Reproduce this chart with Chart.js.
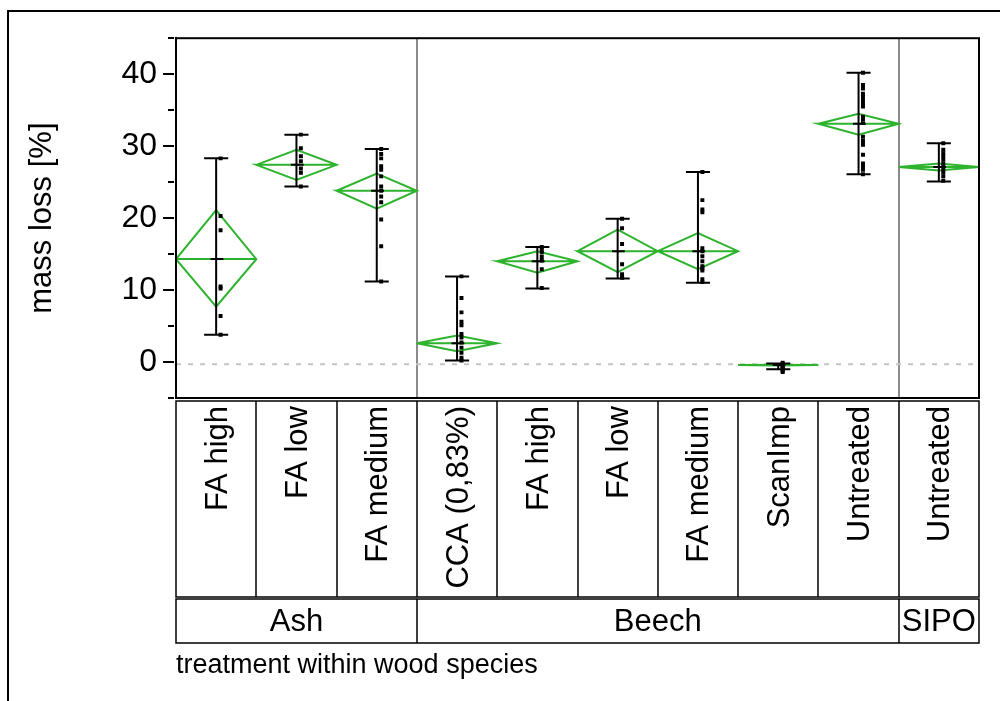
<!DOCTYPE html>
<html>
<head>
<meta charset="utf-8">
<title>mass loss</title>
<script src="https://cdn.jsdelivr.net/npm/chart.js@4.4.1/dist/chart.umd.min.js"></script>
<style>
  body { margin: 0; background: #fff; }
  #wrap { width: 1000px; height: 701px; }
</style>
</head>
<body>
<div id="wrap"><canvas id="chart" width="1000" height="701"></canvas></div>
<script>
// treatments, grouped by wood species
var categories = ['FA high', 'FA low', 'FA medium', 'CCA (0,83%)', 'FA high', 'FA low', 'FA medium', 'ScanImp', 'Untreated', 'Untreated'];
var species = ['Ash', 'Beech', 'SIPO'];
var speciesCount = [3, 6, 1];

// means diamonds (mean + confidence limits) and range bars
var means  = [14.3, 27.4, 23.8, 2.6, 14.0, 15.4, 15.4, -0.42, 33.1, 27.1];
var ciLow  = [7.7, 25.3, 21.3, 1.5, 12.4, 12.5, 12.9, -0.47, 31.6, 26.6];
var ciHigh = [21.1, 29.5, 26.2, 3.7, 15.4, 18.4, 17.9, -0.37, 34.5, 27.6];
var minVals = [3.8, 24.4, 11.2, 0.2, 10.2, 11.6, 11.0, -1.0, 26.1, 25.1];
var maxVals = [28.3, 31.6, 29.6, 11.9, 16.0, 19.9, 26.4, -0.2, 40.2, 30.4];

// single measurements
var ashHigh   = [28.3, 20.3, 18.3, 10.5, 10.2, 6.4, 3.8];
var ashLow    = [31.6, 29.7, 28.6, 27.9, 26.9, 26.3, 24.4];
var ashMedium = [29.6, 28.9, 28.3, 27.2, 26.7, 25.8, 24.4, 23.8, 23.0, 22.2, 19.8, 16.1, 11.2];
var beechCCA  = [11.9, 8.9, 6.9, 5.6, 5.1, 3.9, 3.4, 2.7, 2.0, 1.3, 0.6, 0.2];
var beechHigh = [16.0, 15.6, 15.2, 14.6, 14.1, 12.9, 10.3];
var beechLow  = [19.9, 18.6, 16.4, 13.6, 12.2, 11.9, 11.7];
var beechMedium = [26.4, 22.5, 21.2, 20.8, 15.8, 15.4, 14.7, 14.0, 13.3, 13.0, 12.7, 11.5, 11.1];
var beechScanImp = [-0.1, -0.3, -0.5, -0.7, -0.9, -1.0, -1.2, -1.4];
var beechUntreated = [40.2, 38.5, 38.0, 37.3, 36.9, 36.4, 36.0, 35.5, 34.1, 33.7, 33.2, 31.3, 30.7, 30.2, 28.8, 27.6, 27.2, 26.7, 26.1];
var sipoUntreated = [30.4, 29.5, 29.0, 28.6, 28.1, 27.6, 27.2, 26.7, 26.3, 25.8, 25.2];
var measurements = [ashHigh, ashLow, ashMedium, beechCCA, beechHigh, beechLow, beechMedium, beechScanImp, beechUntreated, sipoUntreated];

var refLine = -0.3;
var yTicksMajor = [0, 10, 20, 30, 40];

var GREEN = '#2db32d';
var FONT = "'Liberation Sans', Arial, sans-serif";

// diamond outlines + mean line, one path per treatment
var diamonds = [];
var bars = [];
var dots = [];
for (var i = 0; i < categories.length; i++) {
  var c = i + 0.5;
  diamonds.push({x: i, y: means[i]}, {x: c, y: ciHigh[i]}, {x: i + 1, y: means[i]},
                {x: c, y: ciLow[i]}, {x: i, y: means[i]}, {x: i + 1, y: means[i]}, {x: c, y: null});
  bars.push({x: c, y: minVals[i]}, {x: c, y: maxVals[i]}, {x: c, y: null});
  bars.push({x: c - 0.15, y: maxVals[i]}, {x: c + 0.15, y: maxVals[i]}, {x: c, y: null});
  bars.push({x: c - 0.15, y: minVals[i]}, {x: c + 0.15, y: minVals[i]}, {x: c, y: null});
  bars.push({x: c - 0.07, y: means[i]}, {x: c + 0.09, y: means[i]}, {x: c, y: null});
  measurements[i].forEach(function(v) { dots.push({x: c + 0.055, y: v}); });
}

// frames, tick marks and the two-level category table under the plot
var decor = {
  id: 'decor',
  beforeDraw: function(chart) {
    var ctx = chart.ctx;
    ctx.save();
    ctx.fillStyle = '#fff';
    ctx.fillRect(0, 0, chart.width, chart.height);
    ctx.strokeStyle = '#000';
    ctx.lineWidth = 2;
    ctx.beginPath();
    ctx.moveTo(8, chart.height);
    ctx.lineTo(8, 11);
    ctx.lineTo(chart.width, 11);
    ctx.stroke();
    ctx.restore();
  },
  beforeDatasetsDraw: function(chart) {
    var ctx = chart.ctx, a = chart.chartArea, x = chart.scales.x;
    ctx.save();
    ctx.strokeStyle = '#8a8a8a';
    ctx.lineWidth = 2;
    var pos = 0;
    for (var g = 0; g < speciesCount.length - 1; g++) {
      pos += speciesCount[g];
      var px = Math.round(x.getPixelForValue(pos));
      ctx.beginPath();
      ctx.moveTo(px, a.top);
      ctx.lineTo(px, a.bottom);
      ctx.stroke();
    }
    ctx.restore();
  },
  afterDraw: function(chart) {
    var ctx = chart.ctx, a = chart.chartArea, x = chart.scales.x, y = chart.scales.y;
    ctx.save();
    ctx.strokeStyle = '#000';
    ctx.lineWidth = 2;
    ctx.strokeRect(a.left, a.top, a.right - a.left, a.bottom - a.top);

    // y tick marks, long on labelled values
    y.ticks.forEach(function(t) {
      var py = Math.round(y.getPixelForValue(t.value));
      var len = yTicksMajor.indexOf(t.value) >= 0 ? 11 : 6;
      ctx.beginPath();
      ctx.moveTo(a.left - 2 - len, py);
      ctx.lineTo(a.left - 2, py);
      ctx.stroke();
    });

    // treatment row
    var catTop = a.bottom + 3, catBottom = a.bottom + 199;
    var grpTop = catBottom + 2, grpBottom = catBottom + 46;
    ctx.lineWidth = 1.5;
    ctx.strokeRect(a.left, catTop, a.right - a.left, catBottom - catTop);
    ctx.font = '31px ' + FONT;
    ctx.fillStyle = '#000';
    for (var i = 0; i < categories.length; i++) {
      if (i > 0) {
        var bx = Math.round(x.getPixelForValue(i));
        ctx.beginPath();
        ctx.moveTo(bx, catTop);
        ctx.lineTo(bx, catBottom);
        ctx.stroke();
      }
      ctx.save();
      ctx.translate(x.getPixelForValue(i + 0.5) + 2, catTop + 5);
      ctx.rotate(-Math.PI / 2);
      ctx.textAlign = 'right';
      ctx.textBaseline = 'middle';
      ctx.fillText(categories[i], 0, 0);
      ctx.restore();
    }

    // species row
    ctx.strokeRect(a.left, grpTop, a.right - a.left, grpBottom - grpTop);
    ctx.textAlign = 'center';
    ctx.textBaseline = 'middle';
    var start = 0;
    for (var g = 0; g < species.length; g++) {
      var end = start + speciesCount[g];
      if (g > 0) {
        var gx = Math.round(x.getPixelForValue(start));
        ctx.beginPath();
        ctx.moveTo(gx, grpTop);
        ctx.lineTo(gx, grpBottom);
        ctx.stroke();
      }
      ctx.fillText(species[g], (x.getPixelForValue(start) + x.getPixelForValue(end)) / 2, (grpTop + grpBottom) / 2 + 1);
      start = end;
    }

    ctx.font = '27px ' + FONT;
    ctx.textAlign = 'left';
    ctx.textBaseline = 'alphabetic';
    ctx.fillText('treatment within wood species', a.left, grpBottom + 30);
    ctx.restore();
  }
};

new Chart(document.getElementById('chart'), {
  type: 'line',
  data: {
    datasets: [
      {
        data: dots,
        showLine: false,
        pointStyle: 'rect',
        pointRadius: 2.8,
        pointBackgroundColor: '#000',
        pointBorderWidth: 0,
        order: 0
      },
      {
        data: bars,
        borderColor: '#000',
        borderWidth: 2,
        pointRadius: 0,
        spanGaps: false,
        tension: 0,
        order: 1
      },
      {
        data: diamonds,
        borderColor: GREEN,
        borderWidth: 2,
        pointRadius: 0,
        spanGaps: false,
        tension: 0,
        order: 2
      },
      {
        data: [{x: 0, y: refLine}, {x: categories.length, y: refLine}],
        borderColor: '#c4c4c4',
        borderWidth: 2,
        borderDash: [5, 7],
        pointRadius: 0,
        order: 3
      }
    ]
  },
  options: {
    responsive: false,
    animation: false,
    layout: { padding: { left: 0, top: 37, right: 21, bottom: 303 } },
    plugins: { legend: { display: false }, tooltip: { enabled: false } },
    scales: {
      x: { type: 'linear', min: 0, max: categories.length, display: false },
      y: {
        min: -5,
        max: 45,
        grid: { display: false, drawTicks: false },
        border: { display: true, color: '#000', width: 2 },
        ticks: {
          stepSize: 5,
          autoSkip: false,
          padding: 19,
          color: '#000',
          font: { family: FONT, size: 32 },
          callback: function(v) { return yTicksMajor.indexOf(v) >= 0 ? v : ''; }
        },
        title: {
          display: true,
          text: 'mass loss [%]',
          color: '#000',
          font: { family: FONT, size: 31 },
          padding: { top: 24, bottom: 0 }
        },
        afterFit: function(scale) { scale.width = 176; }
      }
    }
  },
  plugins: [decor]
});
</script>
</body>
</html>
